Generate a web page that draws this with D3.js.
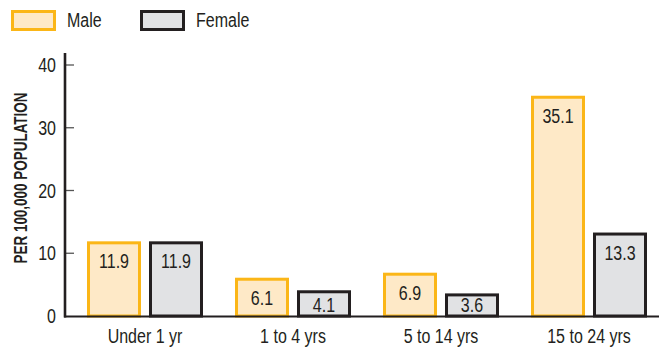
<!DOCTYPE html>
<html>
<head>
<meta charset="utf-8">
<script src="https://cdn.jsdelivr.net/npm/d3@7"></script>
<style>
  html, body { margin: 0; padding: 0; background: #fff; }
  svg { display: block; }
  text { font-family: "Liberation Sans Narrow", "Liberation Sans", Arial, sans-serif; fill: #231f20; }
</style>
</head>
<body>
<script>
// Rates per 100,000 population by age group and sex
const categories = ["Under 1 yr", "1 to 4 yrs", "5 to 14 yrs", "15 to 24 yrs"];
const seriesNames = ["Male", "Female"];
const maleValues = [11.9, 6.1, 6.9, 35.1];
const femaleValues = [11.9, 4.1, 3.6, 13.3];
const yTicks = [0, 10, 20, 30, 40];
const yTitle = "PER 100,000 POPULATION";

const W = 659, H = 349;
const colors = {
  Male: { fill: "#fee9c7", stroke: "#fbb617" },
  Female: { fill: "#e1e2e4", stroke: "#231f20" }
};
const values = { Male: maleValues, Female: femaleValues };
const narrow = 0.8; // horizontal squeeze for a condensed look

const svg = d3.select("body").append("svg")
  .attr("width", W).attr("height", H);

// condensed text placed at (x, y)
function label(parent, x, y, str, anchor) {
  return parent.append("text")
    .attr("transform", `translate(${x},${y}) scale(${narrow},1)`)
    .attr("text-anchor", anchor || "start")
    .attr("font-size", 20)
    .text(str);
}

const y = d3.scaleLinear().domain([0, 40]).range([316, 65]);
const x = d3.scaleBand().domain(categories).range([71, 663]).padding(0);
const xs = d3.scaleBand().domain(seriesNames).range([16, 132])
  .paddingInner(0.129).paddingOuter(0);

// Legend
const legend = svg.append("g");
const legendX = { Male: 11, Female: 140 };
seriesNames.forEach(s => {
  legend.append("rect")
    .attr("x", legendX[s] + 1.5).attr("y", 11.5)
    .attr("width", 42).attr("height", 18)
    .attr("fill", colors[s].fill)
    .attr("stroke", colors[s].stroke)
    .attr("stroke-width", 3);
  label(legend, legendX[s] + 56, 27, s);
});

// Y axis title
svg.append("text")
  .attr("transform", `translate(27,${178}) rotate(-90)`)
  .attr("text-anchor", "middle")
  .attr("font-size", 18)
  .attr("font-weight", "bold")
  .attr("textLength", 171)
  .attr("lengthAdjust", "spacingAndGlyphs")
  .text(yTitle);

// Y axis: ticks point inward, labels to the left
const yAxis = svg.append("g");
yAxis.selectAll("line.tick").data(yTicks.filter(t => t > 0)).join("line")
  .attr("class", "tick")
  .attr("x1", 65).attr("x2", 74)
  .attr("y1", d => y(d)).attr("y2", d => y(d))
  .attr("stroke", "#555").attr("stroke-width", 1.3);
yTicks.forEach(t => label(yAxis, 56, y(t) + 7, t, "end"));

// Bars
const groups = svg.append("g").selectAll("g").data(categories).join("g")
  .attr("transform", c => `translate(${x(c)},0)`);

const sw = 3;
groups.each(function(c, i) {
  const g = d3.select(this);
  seriesNames.forEach(s => {
    const v = values[s][i];
    g.append("rect")
      .attr("x", xs(s) + sw / 2)
      .attr("y", y(v) + sw / 2)
      .attr("width", xs.bandwidth() - sw)
      .attr("height", y(0) - y(v) - sw / 2)
      .attr("fill", colors[s].fill)
      .attr("stroke", colors[s].stroke)
      .attr("stroke-width", sw);
    // value label near the top of the bar, kept inside short bars
    label(g, xs(s) + xs.bandwidth() / 2, Math.min(y(v) + 27, 312), v.toFixed(1), "middle");
  });
});

// Category labels
const catG = svg.append("g");
categories.forEach(c => label(catG, x(c) + x.bandwidth() / 2, 343, c, "middle"));

// Axis lines
svg.append("line")
  .attr("x1", 64).attr("x2", 659)
  .attr("y1", 316.5).attr("y2", 316.5)
  .attr("stroke", "#231f20").attr("stroke-width", 2);
svg.append("line")
  .attr("x1", 65).attr("x2", 65)
  .attr("y1", 53).attr("y2", 317.5)
  .attr("stroke", "#231f20").attr("stroke-width", 2.6);
</script>
</body>
</html>
